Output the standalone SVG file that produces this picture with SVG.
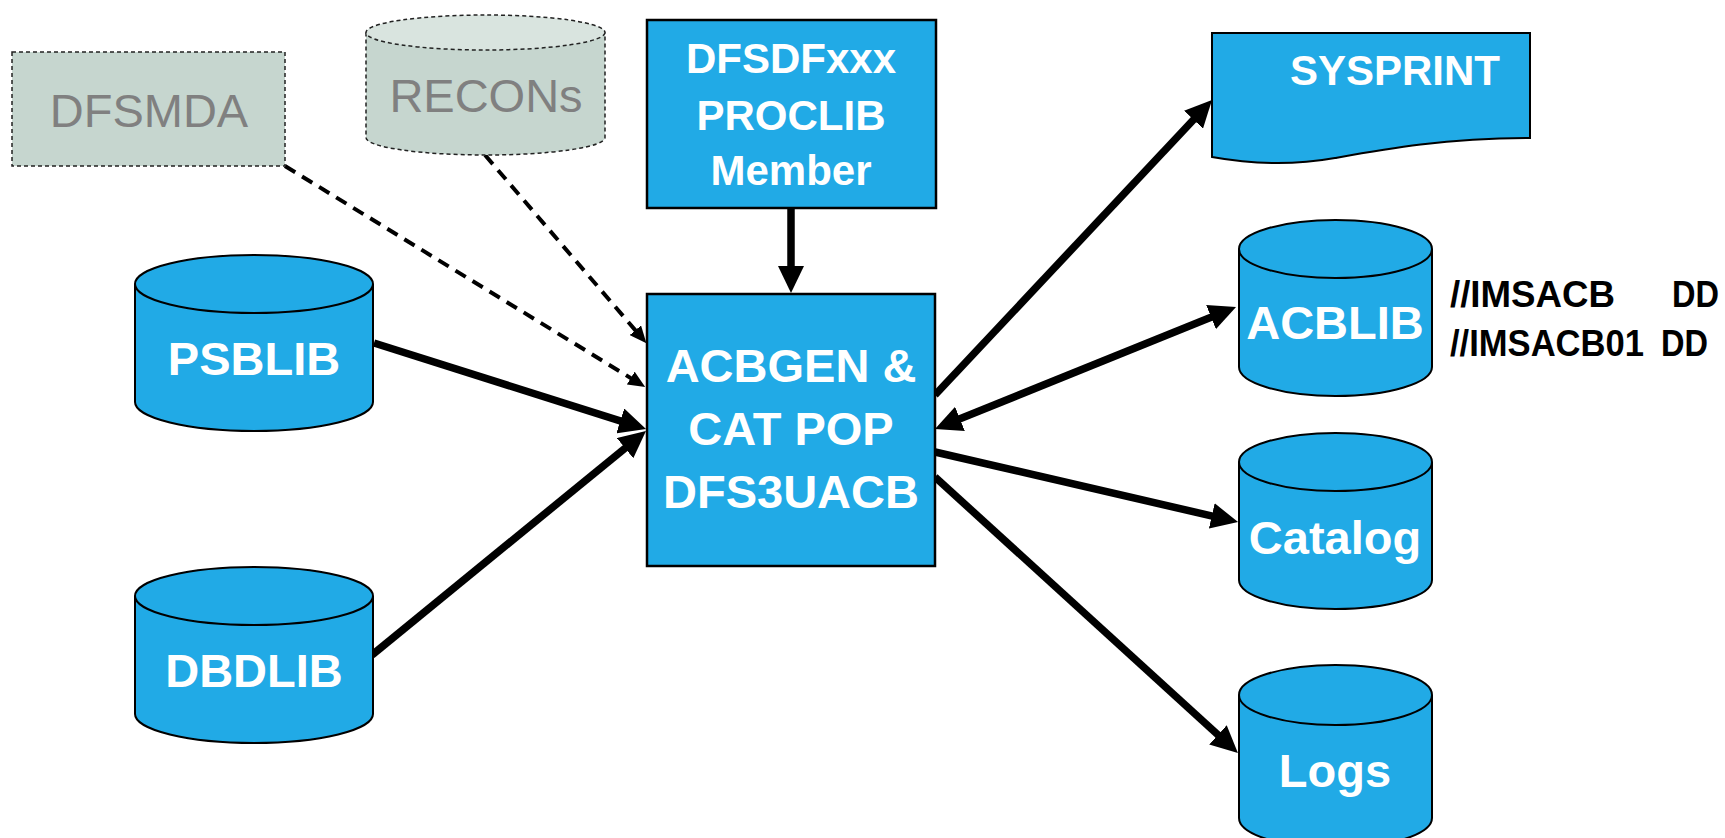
<svg xmlns="http://www.w3.org/2000/svg" width="1725" height="838" viewBox="0 0 1725 838">
<style>
  .blue{fill:#21aae6;stroke:#000;stroke-width:2}
  .box{fill:#21aae6;stroke:#000;stroke-width:2.5}
  .gray{fill:#c6d6cf;stroke:#222;stroke-width:1.5;stroke-dasharray:4 3}
  .graytop{fill:#d9e4df;stroke:#222;stroke-width:1.5;stroke-dasharray:4 3}
  .wt{font-family:"Liberation Sans",Arial,sans-serif;font-weight:bold;fill:#fff;text-anchor:middle}
  .gt{font-family:"Liberation Sans",Arial,sans-serif;fill:#808080;text-anchor:middle}
  .bt{font-family:"Liberation Sans",Arial,sans-serif;font-weight:bold;fill:#000;font-size:37px}
  .solid{fill:none;stroke:#000;stroke-width:7.5}
  .dash{fill:none;stroke:#000;stroke-width:4;stroke-dasharray:12 8}
</style>
<defs>
  <marker id="arr" markerUnits="userSpaceOnUse" markerWidth="27" markerHeight="26" refX="14" refY="13" orient="auto-start-reverse">
    <path d="M0,0 L27,13 L0,26 z" fill="#000"/>
  </marker>
  <marker id="arrs" markerUnits="userSpaceOnUse" markerWidth="17" markerHeight="15" refX="9" refY="7.5" orient="auto">
    <path d="M0,0 L17,7.5 L0,15 z" fill="#000"/>
  </marker>
</defs>

<g id="connectors">
  <path class="dash" d="M285,166 L638.4,382.8" marker-end="url(#arrs)"/>
  <path class="dash" d="M485,155 L641.2,337.1" marker-end="url(#arrs)"/>
  <path class="solid" d="M791,208 L791,280" marker-end="url(#arr)"/>
  <path class="solid" d="M374,343 L633.6,425.1" marker-end="url(#arr)"/>
  <path class="solid" d="M372,655 L635.9,439.3" marker-end="url(#arr)"/>
  <path class="solid" d="M935,395 L1203.1,109.5" marker-end="url(#arr)"/>
  <path class="solid" d="M947.0,424.1 L1224.0,311.9" marker-start="url(#arr)" marker-end="url(#arr)"/>
  <path class="solid" d="M935,452 L1225.4,519.1" marker-end="url(#arr)"/>
  <path class="solid" d="M935,477 L1228.3,744.2" marker-end="url(#arr)"/>
</g>

<g id="dfsmda">
  <rect class="gray" x="12" y="52" width="273" height="114"/>
  <text class="gt" x="149" y="127" font-size="47">DFSMDA</text>
</g>

<g id="recons">
  <path class="gray" d="M366,32.5 L366,137.5 A119.5,17.5 0 0 0 605,137.5 L605,32.5"/>
  <ellipse class="graytop" cx="485.5" cy="32.5" rx="119.5" ry="17.5"/>
  <text class="gt" x="486" y="112" font-size="47">RECONs</text>
</g>

<g id="dfsdfxxx">
  <rect class="box" x="647" y="20" width="289" height="188"/>
  <text class="wt" x="791" y="73" font-size="42">DFSDFxxx</text>
  <text class="wt" x="791" y="130" font-size="42">PROCLIB</text>
  <text class="wt" x="791" y="185" font-size="42">Member</text>
</g>

<g id="acbgen">
  <rect class="box" x="647" y="294" width="288" height="272"/>
  <text class="wt" x="791" y="382" font-size="47">ACBGEN &amp;</text>
  <text class="wt" x="791" y="445" font-size="47">CAT POP</text>
  <text class="wt" x="791" y="508" font-size="47">DFS3UACB</text>
</g>

<g id="psblib">
  <path class="blue" d="M135,284 L135,402 A119,29 0 0 0 373,402 L373,284"/>
  <ellipse class="blue" cx="254" cy="284" rx="119" ry="29"/>
  <text class="wt" x="254" y="375" font-size="47">PSBLIB</text>
</g>

<g id="dbdlib">
  <path class="blue" d="M135,596 L135,714 A119,29 0 0 0 373,714 L373,596"/>
  <ellipse class="blue" cx="254" cy="596" rx="119" ry="29"/>
  <text class="wt" x="254" y="687" font-size="47">DBDLIB</text>
</g>

<g id="sysprint">
  <path class="blue" d="M1212,33 H1530 V138 C1445,138 1385,149 1335,158 C1285,167 1245,163 1212,157 Z"/>
  <text class="wt" x="1395" y="85" font-size="42">SYSPRINT</text>
</g>

<g id="acblib">
  <path class="blue" d="M1239,249 L1239,367 A96.5,29 0 0 0 1432,367 L1432,249"/>
  <ellipse class="blue" cx="1335.5" cy="249" rx="96.5" ry="29"/>
  <text class="wt" x="1335" y="339" font-size="47">ACBLIB</text>
</g>

<g id="dd-labels">
  <text class="bt" x="1450" y="307" textLength="165" lengthAdjust="spacingAndGlyphs">//IMSACB</text>
  <text class="bt" x="1672" y="307" textLength="47" lengthAdjust="spacingAndGlyphs">DD</text>
  <text class="bt" x="1450" y="356" textLength="194" lengthAdjust="spacingAndGlyphs">//IMSACB01</text>
  <text class="bt" x="1661" y="356" textLength="47" lengthAdjust="spacingAndGlyphs">DD</text>
</g>

<g id="catalog">
  <path class="blue" d="M1239,462 L1239,580 A96.5,29 0 0 0 1432,580 L1432,462"/>
  <ellipse class="blue" cx="1335.5" cy="462" rx="96.5" ry="29"/>
  <text class="wt" x="1335" y="554" font-size="47">Catalog</text>
</g>

<g id="logs">
  <path class="blue" d="M1239,695 L1239,818 A96.5,30 0 0 0 1432,818 L1432,695"/>
  <ellipse class="blue" cx="1335.5" cy="695" rx="96.5" ry="30"/>
  <text class="wt" x="1335" y="787" font-size="47">Logs</text>
</g>
</svg>
